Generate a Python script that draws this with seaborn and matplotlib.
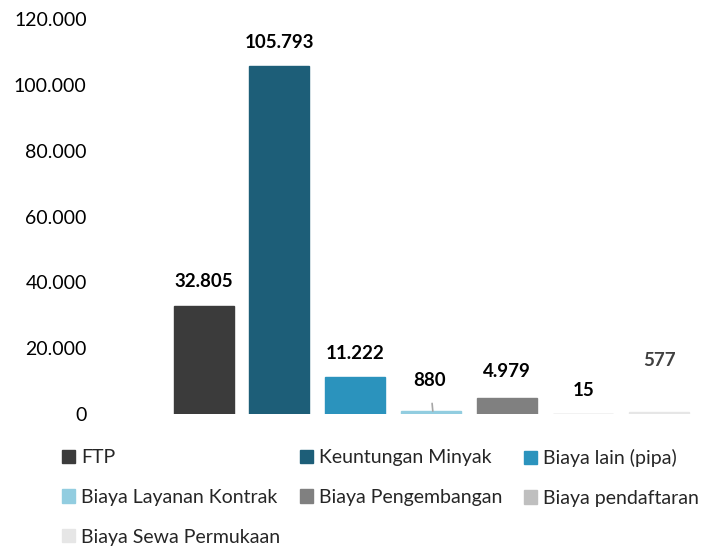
import matplotlib
matplotlib.use("Agg")
import matplotlib.pyplot as plt
import matplotlib.patches as mpatches
import seaborn as sns
import pandas as pd

# ---- data ----
categories = ["FTP", "Keuntungan Minyak", "Biaya lain (pipa)", "Biaya Layanan Kontrak",
              "Biaya Pengembangan", "Biaya pendaftaran", "Biaya Sewa Permukaan"]
values = [32805, 105793, 11222, 880, 4979, 15, 577]
labels = ["32.805", "105.793", "11.222", "880", "4.979", "15", "577"]
colors = ["#3b3b3b", "#1d5e78", "#2b93bd", "#92cde0", "#808080", "#bfbfbf", "#e6e6e6"]
yticks = [0, 20000, 40000, 60000, 80000, 100000, 120000]
ytick_labels = ["0", "20.000", "40.000", "60.000", "80.000", "100.000", "120.000"]

sns.set_theme(style="white")
plt.rcParams["font.family"] = ["Lato", "DejaVu Sans"]

df = pd.DataFrame({"cat": categories, "val": values})

fig = plt.figure(figsize=(7.21, 5.47), dpi=100)
ax = fig.add_axes([95 / 721, (547 - 414) / 547, (700 - 95) / 721, (414 - 19) / 547])

sns.barplot(data=df, x="cat", y="val", hue="cat", palette=colors, order=categories,
            hue_order=categories, width=0.79, dodge=False, legend=False, ax=ax,
            saturation=1)
# thin outline in the bar colour so tiny values still show as a line
for p in ax.patches:
    p.set_edgecolor(p.get_facecolor())
    p.set_linewidth(1.0)

ax.set_ylim(0, 120000)
ax.set_xlim(-1.43, 6.54)
ax.set_yticks(yticks)
ax.set_yticklabels(ytick_labels, fontsize=14, color="#000000")
ax.set_xticks([])
ax.set_xlabel("")
ax.set_ylabel("")
ax.tick_params(axis="y", length=0, pad=6)
for s in ax.spines.values():
    s.set_visible(False)

# data labels (offsets in points above bar top)
offsets = [18, 17, 17, 22, 19, 17, 37]
label_colors = ["#000000"] * 6 + ["#404040"]
for i, (v, t) in enumerate(zip(values, labels)):
    if t == "880":
        ax.annotate(t, xy=(i + 0.02, v), xytext=(-2, offsets[i]), textcoords="offset points",
                    ha="center", va="center", fontsize=13.5, fontweight="bold",
                    color=label_colors[i],
                    arrowprops=dict(arrowstyle="-", color="#a6a6a6", lw=1.2,
                                    shrinkA=8, shrinkB=0))
    else:
        ax.annotate(t, xy=(i, v), xytext=(0, offsets[i]), textcoords="offset points",
                    ha="center", va="center", fontsize=13.5, fontweight="bold",
                    color=label_colors[i])

# legend: three equal-width columns, row-major order
handles = [mpatches.Patch(color=c, label=l) for c, l in zip(colors, categories)]
col_x = [62 / 721, 300 / 721, 524 / 721]
for c in range(3):
    hs = handles[c::3]
    fig.legend(handles=hs, loc="upper left", bbox_to_anchor=(col_x[c], (547 - 449) / 547),
               frameon=False, fontsize=14, handlelength=0.68, handleheight=0.68,
               handletextpad=0.3, labelspacing=1.17, borderaxespad=0, borderpad=0)

fig.savefig("out.png", dpi=100)
